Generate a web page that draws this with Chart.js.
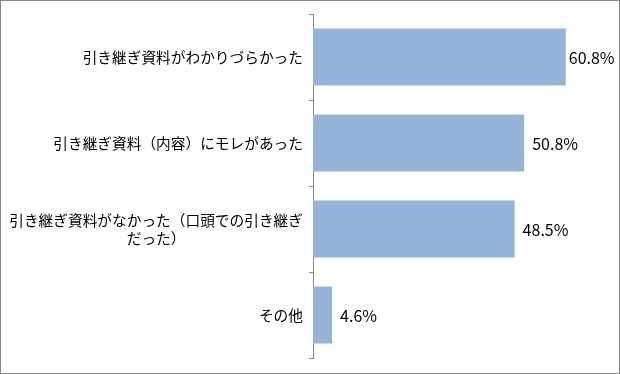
<!DOCTYPE html>
<html>
<head>
<meta charset="utf-8">
<script src="https://cdn.jsdelivr.net/npm/chart.js@4"></script>
<style>
  html, body { margin: 0; padding: 0; background: #fff; }
  #wrap { position: relative; width: 620px; height: 374px; }
  #wrap canvas { position: absolute; left: 0; top: 0; }
  #frame { position: absolute; left: 0; top: 0; width: 620px; height: 374px; box-sizing: border-box; border: 1px solid #868686; pointer-events: none; }
</style>
</head>
<body>
<div id="wrap">
  <canvas id="chart" width="620" height="374"></canvas>
  <div id="frame"></div>
</div>
<script>
// データ
const categories = [
  '引き継ぎ資料がわかりづらかった',
  '引き継ぎ資料（内容）にモレがあった',
  ['引き継ぎ資料がなかった（口頭での引き継ぎ', 'だった）'],
  'その他'
];
const values = [60.8, 50.8, 48.5, 4.6];
const valueLabels = ['60.8%', '50.8%', '48.5%', '4.6%'];
const axisMax = 70;

const labelFont = '14.7px "Noto Sans CJK JP", sans-serif';
const valueFont = '16px "Noto Sans CJK JP", sans-serif';

// 項目名と数値ラベルを描くプラグイン
const labelPlugin = {
  id: 'labels',
  afterDatasetsDraw(chart) {
    const ctx = chart.ctx;
    const yScale = chart.scales.y;
    const area = chart.chartArea;
    ctx.save();
    ctx.fillStyle = '#000';
    ctx.textBaseline = 'middle';

    // 項目名（複数行は中央揃え）
    ctx.font = labelFont;
    ctx.textAlign = 'center';
    categories.forEach((cat, i) => {
      const lines = Array.isArray(cat) ? cat : [cat];
      const w = Math.max(...lines.map(l => ctx.measureText(l).width));
      const cx = area.left - 10 - w / 2;
      const cy = yScale.getPixelForValue(i);
      const lh = 18;
      lines.forEach((l, j) => {
        ctx.fillText(l, cx, cy + (j - (lines.length - 1) / 2) * lh);
      });
    });

    // 数値ラベル（右端からはみ出す場合は内側へ寄せる）
    ctx.font = valueFont;
    ctx.textAlign = 'left';
    const meta = chart.getDatasetMeta(0);
    meta.data.forEach((bar, i) => {
      const w = ctx.measureText(valueLabels[i]).width;
      const x = Math.max(bar.x + 3, Math.min(bar.x + 8, chart.width - 6 - w));
      ctx.fillText(valueLabels[i], x, bar.y + 1);
    });
    ctx.restore();
  }
};

new Chart(document.getElementById('chart'), {
  type: 'bar',
  data: {
    labels: categories,
    datasets: [{
      data: values,
      backgroundColor: '#95B3D7',
      borderWidth: 0,
      barPercentage: 0.663,
      categoryPercentage: 1
    }]
  },
  options: {
    indexAxis: 'y',
    responsive: false,
    animation: false,
    events: [],
    layout: { padding: { top: 14, bottom: 16, right: 16, left: 0 } },
    plugins: { legend: { display: false }, tooltip: { enabled: false } },
    scales: {
      x: { display: false, min: 0, max: axisMax },
      y: {
        ticks: { display: false },
        grid: { offset: true, drawOnChartArea: false, tickLength: 4, color: '#868686' },
        border: { color: '#868686' },
        afterFit(scale) { scale.width = 313; }
      }
    }
  },
  plugins: [labelPlugin]
});
</script>
</body>
</html>
